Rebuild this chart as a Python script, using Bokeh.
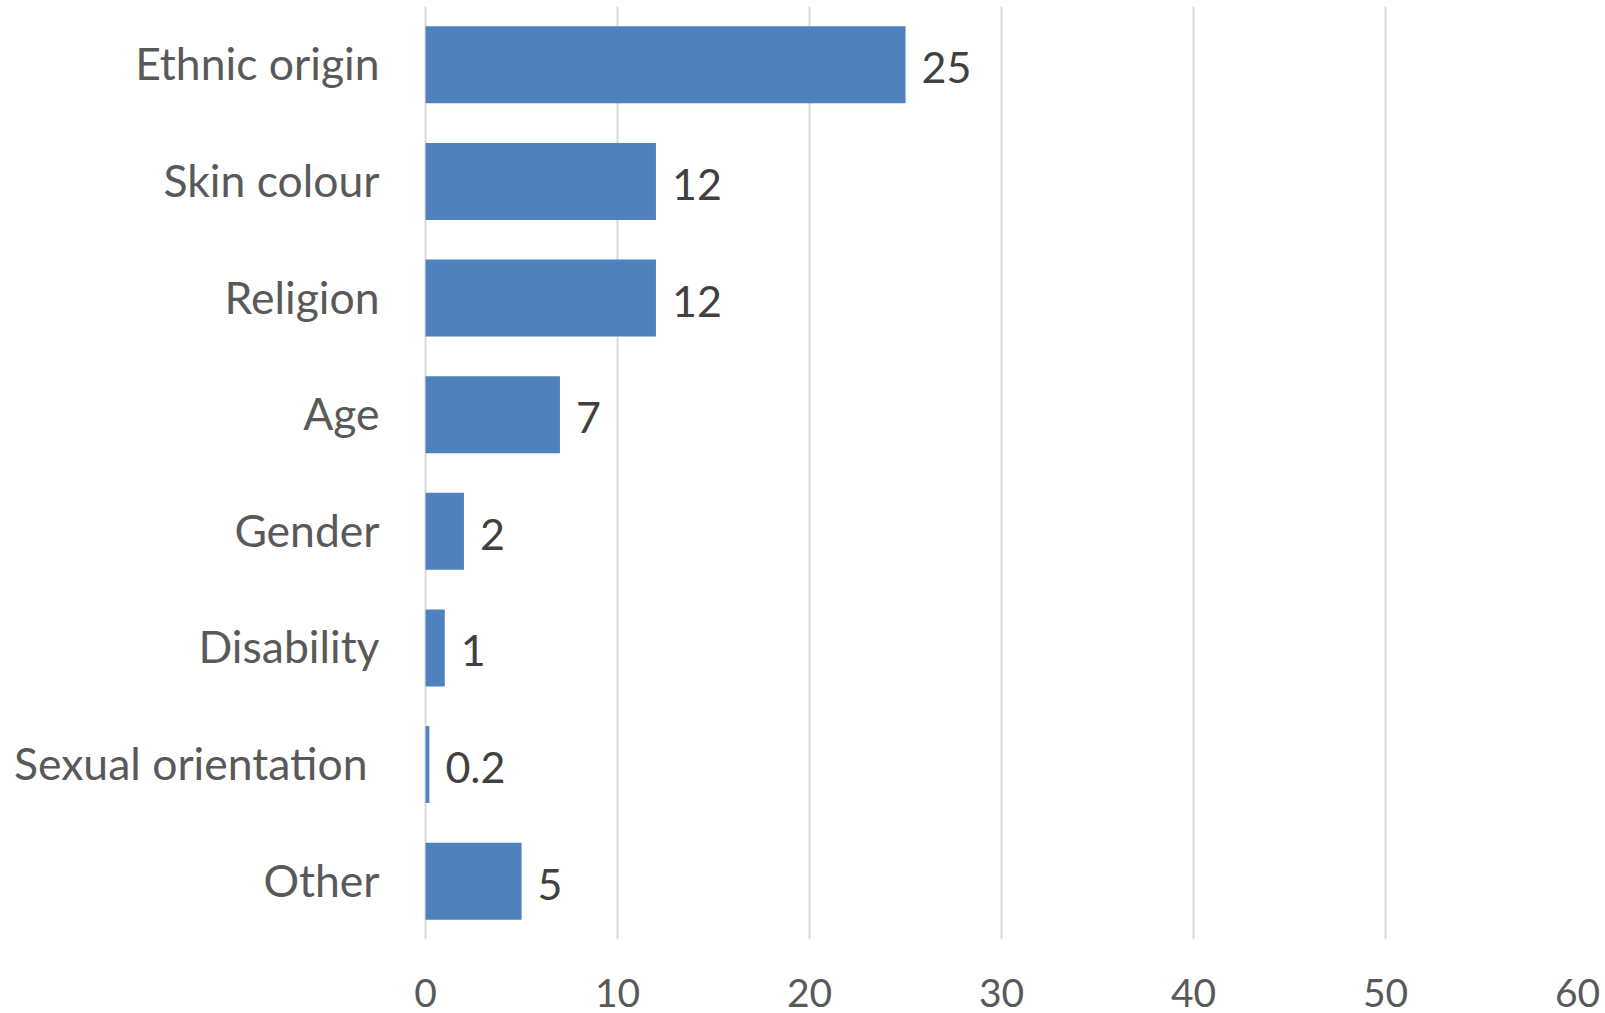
from bokeh.plotting import figure
from bokeh.models import ColumnDataSource, FactorRange, Range1d, FixedTicker
from bokeh.core.properties import value
from bokeh.embed import file_html
from bokeh.resources import INLINE

categories = ["Ethnic origin", "Skin colour", "Religion", "Age", "Gender",
              "Disability", "Sexual orientation", "Other"]
values = [25, 12, 12, 7, 2, 1, 0.2, 5]
x_ticks = [0, 10, 20, 30, 40, 50, 60]

FONT = "Lato"
BAR = "#4F81BD"

# frame spans the whole width; the negative part holds the category labels
X_MIN, X_MAX = -22.14, 60

labels = [f"{v:g}" for v in values]
# the source label "Sexual orientation " carries a trailing space: extra left shift
cat_offsets = [-46 - (12 if c == "Sexual orientation" else 0) for c in categories]
src = ColumnDataSource(dict(cat=categories, val=values, lab=labels,
                            zero=[0] * len(values), coff=cat_offsets))

p = figure(width=1605, height=1013, output_backend="svg", toolbar_location=None,
           y_range=FactorRange(factors=list(reversed(categories)), range_padding=0),
           x_range=Range1d(X_MIN, X_MAX),
           min_border_left=0, min_border_right=28, min_border_top=6,
           min_border_bottom=74)

p.hbar(y="cat", right="val", left=0, height=0.66, source=src,
       fill_color=BAR, line_color=None)

p.text(x="val", y="cat", text="lab", source=src, x_offset=16, y_offset=3,
       text_align="left", text_baseline="middle",
       text_font=value(FONT), text_font_size="43px", text_color="#404040")

p.text(x="zero", y="cat", text="cat", source=src, x_offset="coff", y_offset=-2,
       text_align="right", text_baseline="middle",
       text_font=value(FONT), text_font_size="44.5px", text_color="#595959")

p.outline_line_color = None
p.ygrid.grid_line_color = None
p.xgrid.grid_line_color = "#D9D9D9"
p.xgrid.grid_line_width = 2
p.xaxis.ticker = FixedTicker(ticks=x_ticks)
p.yaxis.visible = False

p.xaxis.axis_line_color = None
p.xaxis.major_tick_line_color = None
p.xaxis.minor_tick_line_color = None
p.xaxis.major_label_text_font = FONT
p.xaxis.major_label_text_color = "#595959"
p.xaxis.major_label_text_font_size = "39px"
p.xaxis.major_label_standoff = 33

open("out.html", "w").write(file_html(p, INLINE))
